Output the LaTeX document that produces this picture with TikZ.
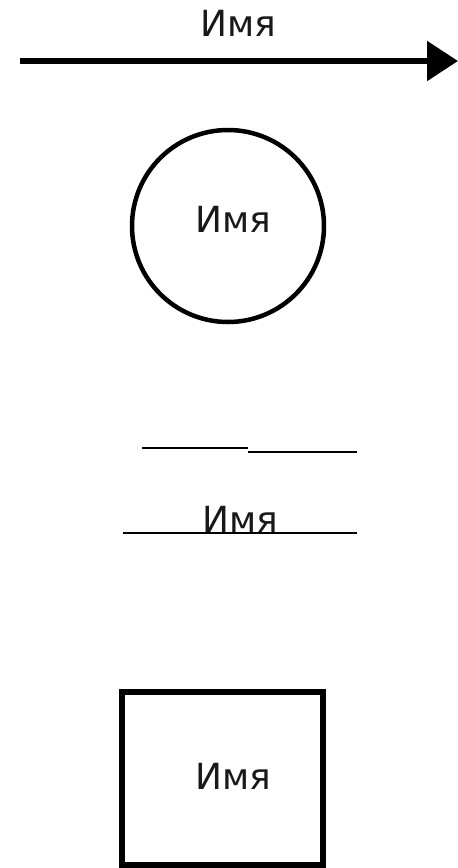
\documentclass[tikz,border=0pt]{standalone}
\usepackage{fontspec}
\setmainfont{DejaVu Sans}
\usetikzlibrary{arrows.meta}
\tikzset{
  lbl/.style={font=\fontsize{36}{42}\selectfont, inner sep=0pt, anchor=base, text=black!90},
  thick4/.style={line width=4.5pt},
}
\begin{document}
\begin{tikzpicture}[x=1pt,y=-1pt]
\useasboundingbox (0,0) rectangle (458,868);
% arrow
\coordinate (a1) at (20,61);
\coordinate (a2) at (458,61);
\draw[line width=5.5pt, -{Triangle[length=31pt,width=39pt]}] (a1) -- (a2);
\node[lbl] (t1) at (238,36) {Имя};
% circle
\node[draw, circle, thick4, minimum size=192pt, inner sep=0pt] (c) at (228,226) {};
\node[lbl] (t2) at (233,232) {Имя};
% lines
\coordinate (l1) at (142,448);
\coordinate (l2) at (248,448);
\coordinate (l3) at (248,452);
\coordinate (l4) at (357,452);
\draw[line width=2.5pt] (l1) -- (l2);
\draw[line width=2.5pt] (l3) -- (l4);
\coordinate (m1) at (123,533);
\coordinate (m2) at (357,533);
\draw[line width=2.5pt] (m1) -- (m2);
\node[lbl] (t3) at (240,532) {Имя};
% square
\node[draw, rectangle, line width=5.5pt, minimum width=201pt, minimum height=173pt, inner sep=0pt] (s) at (222.5,778.5) {};
\node[lbl] (t4) at (233,789) {Имя};
\end{tikzpicture}
\end{document}
